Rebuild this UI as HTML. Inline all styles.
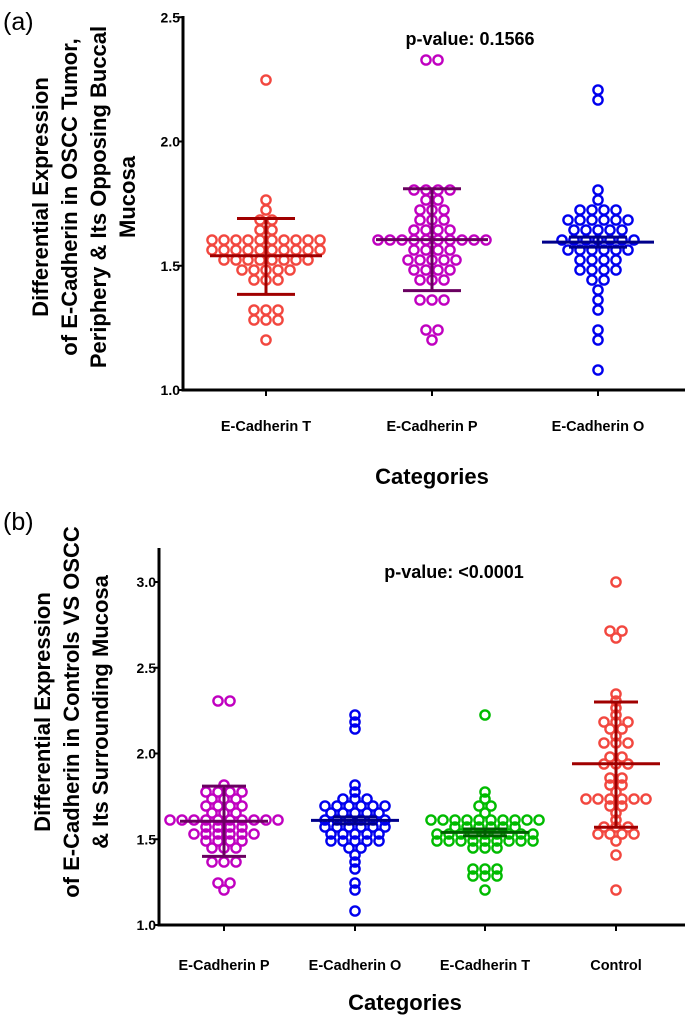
<!DOCTYPE html>
<html><head><meta charset="utf-8"><style>
html,body{margin:0;padding:0;background:#fff}
svg{display:block;font-family:"Liberation Sans",Arial,sans-serif}
</style></head><body>
<svg id="chart" width="685" height="1029" viewBox="0 0 685 1029" xmlns="http://www.w3.org/2000/svg"></svg>
<script>
// ---------- Panel (a) data ----------
const catsA = ["E-Cadherin T","E-Cadherin P","E-Cadherin O"];
const valsA_T = [2.235,1.756,1.72,1.70,1.675,1.635,1.63,1.62,1.62,1.61,1.61,1.61,1.61,1.61,1.61,1.60,1.59,1.58,1.57,1.56,1.56,1.56,1.55,1.55,1.55,1.55,1.55,1.54,1.53,1.53,1.52,1.51,1.51,1.51,1.51,1.50,1.50,1.49,1.49,1.48,1.46,1.45,1.43,1.32,1.32,1.31,1.30,1.30,1.27,1.19];
const valsA_P = [2.31,2.31,1.81,1.79,1.79,1.79,1.78,1.75,1.73,1.73,1.71,1.70,1.68,1.68,1.66,1.65,1.65,1.63,1.61,1.61,1.61,1.61,1.61,1.61,1.61,1.61,1.60,1.59,1.58,1.57,1.56,1.55,1.54,1.54,1.54,1.53,1.52,1.49,1.49,1.48,1.47,1.46,1.45,1.43,1.38,1.36,1.35,1.25,1.24,1.21];
const valsA_O = [2.21,2.15,1.80,1.76,1.73,1.72,1.72,1.71,1.70,1.70,1.70,1.69,1.68,1.67,1.66,1.66,1.65,1.64,1.63,1.62,1.62,1.61,1.60,1.60,1.59,1.59,1.58,1.58,1.57,1.56,1.55,1.55,1.54,1.53,1.52,1.51,1.50,1.50,1.49,1.48,1.45,1.44,1.42,1.35,1.31,1.25,1.21,1.10];
const meanA = [1.54,1.605,1.595];
const errHiA = [1.69,1.81,1.615];
const errLoA = [1.385,1.40,1.575];
const ticksA = [1.0,1.5,2.0,2.5];
// ---------- Panel (b) data ----------
const catsB = ["E-Cadherin P","E-Cadherin O","E-Cadherin T","Control"];
const valsB_C = [3.0,2.73,2.70,2.67,2.36,2.30,2.28,2.22,2.20,2.19,2.17,2.15,2.14,2.12,2.07,2.07,2.07,1.97,1.96,1.95,1.93,1.92,1.86,1.84,1.82,1.82,1.78,1.75,1.74,1.73,1.72,1.72,1.72,1.71,1.70,1.65,1.60,1.58,1.57,1.56,1.55,1.55,1.54,1.52,1.48,1.41,1.21];
const valsB_O = [2.23,2.20,2.15,1.80,1.76,1.73,1.72,1.72,1.71,1.70,1.70,1.70,1.69,1.68,1.67,1.66,1.66,1.65,1.64,1.63,1.62,1.62,1.61,1.60,1.60,1.59,1.59,1.58,1.58,1.57,1.56,1.55,1.55,1.54,1.53,1.52,1.51,1.50,1.50,1.49,1.48,1.45,1.44,1.42,1.35,1.31,1.25,1.21,1.10];
const meanB = [1.605,1.61,1.54,1.94];
const errHiB = [1.81,1.63,1.56,2.30];
const errLoB = [1.40,1.59,1.52,1.57];
const ticksB = [1.0,1.5,2.0,2.5,3.0];

const NS="http://www.w3.org/2000/svg";
const svg=document.getElementById('chart');
function el(tag,attrs,parent){const e=document.createElementNS(NS,tag);for(const k in attrs)e.setAttribute(k,attrs[k]);(parent||svg).appendChild(e);return e;}
function txt(s,attrs,parent){const e=el('text',attrs,parent);e.textContent=s;return e;}

// fixed-bin swarm: points in the same pixel bin spread horizontally
function swarm(vals,cx,yf,d,rowH,y0){
  const bins={};
  vals.map(yf).forEach(y=>{const k=Math.round((y0-y)/rowH);(bins[k]=bins[k]||[]).push(y);});
  const out=[];
  Object.keys(bins).forEach(k=>{
    const n=bins[k].length;
    for(let j=0;j<n;j++){
      const off=(j-(n-1)/2)*d;
      out.push({x:cx+off,y:y0-k*rowH});
    }
  });
  return out;
}

function panel(o){
  const g=el('g',{});
  
  
  const yf=v=>o.y0-(v-o.vmin)*o.ppu;
  const ya=el('line',{x1:o.ax,y1:o.ytop,x2:o.ax,y2:o.y0+1.5,stroke:'#000','stroke-width':3},g);
  
  const xa=el('line',{x1:o.ax-1.5,y1:o.y0,x2:685,y2:o.y0,stroke:'#000','stroke-width':3},g);
  
  o.ticks.forEach(t=>{
    el('line',{x1:o.ax-5,y1:yf(t),x2:o.ax,y2:yf(t),stroke:'#000','stroke-width':2},g);
    const tl=txt(t.toFixed(1),{x:o.ax-3,y:yf(t)+5,'font-size':14,'font-weight':'bold','text-anchor':'end'},g);
    
  });
  o.cats.forEach((c,i)=>{
    const cx=o.cx[i];
    el('line',{x1:cx,y1:o.y0,x2:cx,y2:o.y0+6,stroke:'#000','stroke-width':2},g);
    const cl=txt(c,{x:cx,y:o.labY,'font-size':14.5,'font-weight':'bold','text-anchor':'middle'},g);
    
    const pts=swarm(o.vals[i],cx,yf,o.dx,o.rowH,o.y0);
    pts.forEach(p=>{
      const m=el('circle',{cx:p.x,cy:p.y,r:4.6,fill:'none',stroke:o.colors[i],'stroke-width':2.4},g);
      
    });
    const dc=o.dark[i];
    const ml=el('line',{x1:cx-o.mw,y1:yf(o.mean[i]),x2:cx+o.mw,y2:yf(o.mean[i]),stroke:dc,'stroke-width':3},g);
    
    el('line',{x1:cx,y1:yf(o.hi[i]),x2:cx,y2:yf(o.lo[i]),stroke:dc,'stroke-width':3},g);
    el('line',{x1:cx-o.cw,y1:yf(o.hi[i]),x2:cx+o.cw,y2:yf(o.hi[i]),stroke:dc,'stroke-width':3},g);
    el('line',{x1:cx-o.cw,y1:yf(o.lo[i]),x2:cx+o.cw,y2:yf(o.lo[i]),stroke:dc,'stroke-width':3},g);
  });
  const pv=txt(o.pval,{x:o.pvx,y:o.pvy,'font-size':18,'font-weight':'bold','text-anchor':'middle'},g);
  
  const xt=txt('Categories',{x:o.xtx,y:o.xty,'font-size':22,'font-weight':'bold','text-anchor':'middle'},g);
  
  const pl=txt(o.plabel,{x:3,y:o.ply,'font-size':25},g);
  
  const yt=el('text',{transform:`translate(${o.ytx},${o.yty}) rotate(-90)`,'font-size':22,'font-weight':'bold','text-anchor':'middle'},g);
  
  o.ylines.forEach((s,i)=>{const ts=el('tspan',{x:0,y:i*29},yt);ts.textContent=s;});
}

panel({name:'panel-a',ax:183,ytop:16,y0:390,vmin:1.0,ppu:248.5,ticks:ticksA,cats:catsA,cx:[266,432,598],
  vals:[valsA_T,valsA_P,valsA_O],colors:['#f2473f','#c000c0','#0000ee'],dark:['#a00000','#6a0060','#00008b'],
  mean:meanA,hi:errHiA,lo:errLoA,mw:56,cw:29,dx:12,rowH:10,labY:431,pval:'p-value: 0.1566',pvx:470,pvy:45,
  xtx:432,xty:484,plabel:'(a)',ply:30,ytx:48,yty:197,
  ylines:['Differential Expression','of E-Cadherin in OSCC Tumor,','Periphery & Its Opposing Buccal','Mucosa']});

panel({name:'panel-b',ax:159,ytop:548,y0:925,vmin:1.0,ppu:171.5,ticks:ticksB,cats:catsB,cx:[224,355,485,616],
  vals:[valsA_P,valsB_O,valsA_T,valsB_C],colors:['#c000c0','#0000ee','#00bb00','#f2473f'],dark:['#6a0060','#00008b','#006000','#a00000'],
  mean:meanB,hi:errHiB,lo:errLoB,mw:44,cw:22,dx:12,rowH:7,labY:970,pval:'p-value: <0.0001',pvx:454,pvy:578,
  xtx:405,xty:1010,plabel:'(b)',ply:530,ytx:50,yty:712,
  ylines:['Differential Expression','of E-Cadherin in Controls VS OSCC','& Its Surrounding Mucosa']});
</script>
</body></html>
